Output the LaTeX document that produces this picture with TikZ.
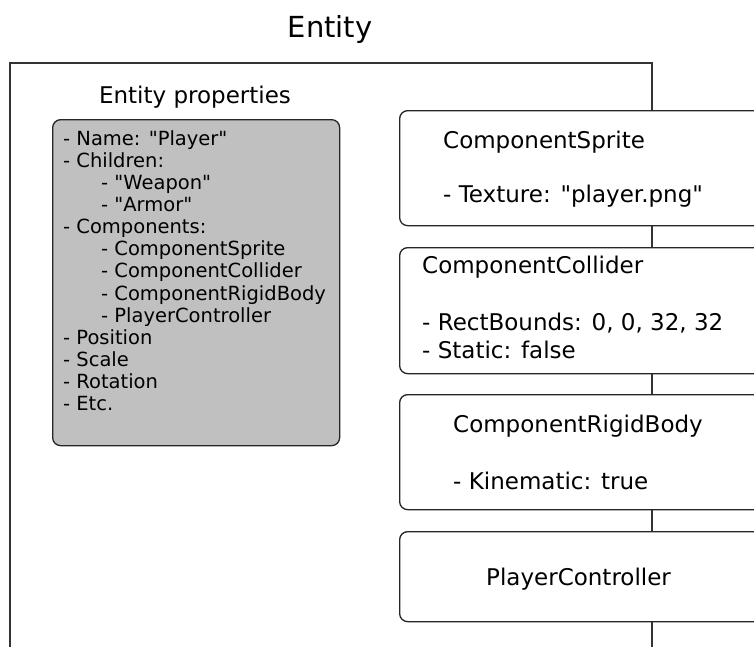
\documentclass[tikz,border=0pt]{standalone}
\usepackage{fontspec}
\setmainfont{DejaVu Sans}[Ligatures=TeXOff]
\definecolor{linegray}{HTML}{333333}
\definecolor{propfill}{HTML}{C0C0C0}
\begin{document}
\begin{tikzpicture}[x=1pt,y=-1pt,
  container/.style={draw=linegray, line width=1.5pt, rectangle, inner sep=0pt, anchor=north west},
  compbox/.style={draw=black!85, line width=1.3pt, fill=white, rounded corners=8pt, rectangle, inner sep=0pt, anchor=north west, minimum width=504pt},
  propbox/.style={draw=black!85, line width=1.3pt, fill=propfill, rounded corners=8pt, rectangle, inner sep=0pt, anchor=north west},
  txt/.style={inner sep=0pt, anchor=base west, font=\fontsize{23}{29}\selectfont},
  titletxt/.style={inner sep=0pt, anchor=base, font=\fontsize{29}{35}\selectfont},
  listtxt/.style={inner sep=0pt, anchor=base west, font=\fontsize{19.5}{22.15}\selectfont},
]
\useasboundingbox (0,0) rectangle (754,646);
\clip (0,0) rectangle (754,646);
\fill[white] (0,0) rectangle (754,646);

% title and container
\node[titletxt] (title) at (330,37) {Entity};
\node[container, minimum width=642pt, minimum height=640pt] (entity) at (9,62) {};

% properties
\node[txt, anchor=base] (proptitle) at (195,103) {Entity properties};
\node[propbox, minimum width=287pt, minimum height=326pt] (props) at (52,119) {};
\node[listtxt] (plist) at (63,145) {\begin{tabular}[t]{@{}l@{}}
- Name: "Player"\\
- Children:\\
\hspace{38pt}- "Weapon"\\
\hspace{38pt}- "Armor"\\
- Components:\\
\hspace{38pt}- ComponentSprite\\
\hspace{38pt}- ComponentCollider\\
\hspace{38pt}- ComponentRigidBody\\
\hspace{38pt}- PlayerController\\
- Position\\
- Scale\\
- Rotation\\
- Etc.
\end{tabular}};

% component boxes
\node[compbox, minimum height=115pt] (sprite) at (399,110) {};
\node[compbox, minimum height=126pt] (collider) at (399,247) {};
\node[compbox, minimum height=115pt] (rigid) at (399,394) {};
\node[compbox, minimum height=90pt] (player) at (399,531) {};

% component texts
\node[txt] (spriteh) at (443,148) {ComponentSprite};
\node[txt] (spritep) at (443,202) {- Texture: "player.png"};
\node[txt] (colliderh) at (422,273) {ComponentCollider};
\node[txt] (colliderp1) at (422,330) {- RectBounds: 0, 0, 32, 32};
\node[txt] (colliderp2) at (422,358) {- Static: false};
\node[txt] (rigidh) at (453,432) {ComponentRigidBody};
\node[txt] (rigidp) at (453,489) {- Kinematic: true};
\node[txt] (playerh) at (486,585) {PlayerController};
\end{tikzpicture}
\end{document}
